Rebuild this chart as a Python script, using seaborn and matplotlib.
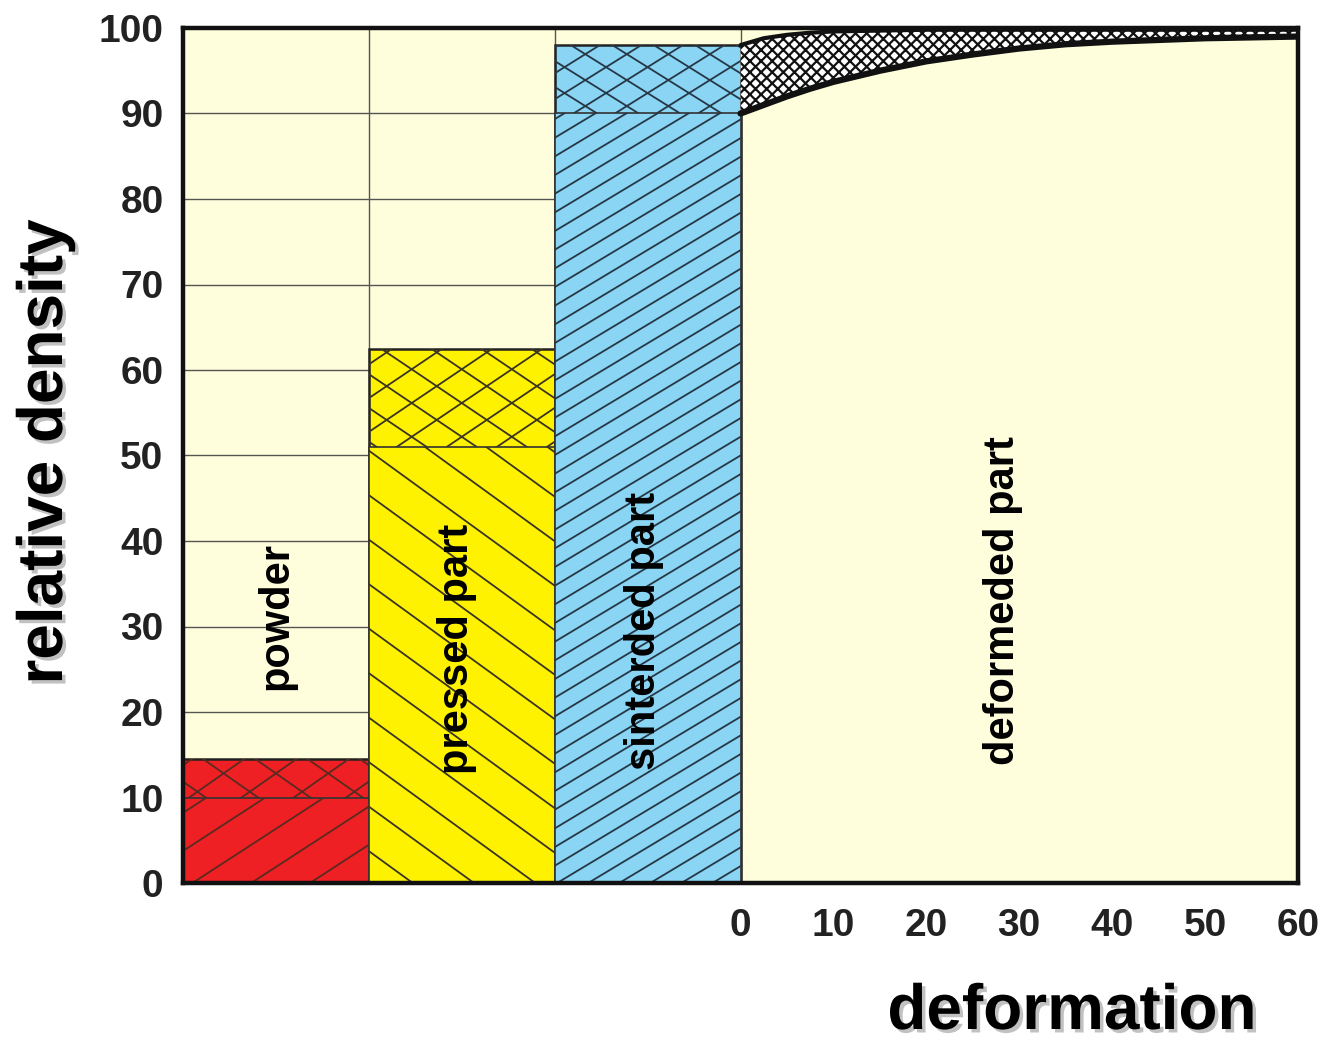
import numpy as np
import pandas as pd
import matplotlib
matplotlib.use("Agg")
import matplotlib.pyplot as plt
import matplotlib.patheffects as pe
from matplotlib.collections import LineCollection
import seaborn as sns

# ---------------- data ----------------
stages = ["powder", "pressed part", "sinterded part"]
stage_total = [14.5, 62.5, 98.0]      # top of each bar (relative density %)
stage_inner = [10.0, 51.0, 90.0]      # lower (single-hatched) part
stage_colors = ["#EE2024", "#FFF200", "#8AD4F4"]

deformation = [0, 2.5, 5, 7.5, 10, 15, 20, 25, 30, 35, 40, 50, 60]
density_low = [90.0, 91.0, 92.0, 92.9, 93.7, 95.0, 96.1, 96.9, 97.6, 98.1,
               98.4, 98.8, 99.0]
density_high = [98.0, 98.8, 99.2, 99.45, 99.6, 99.7, 99.8, 99.8, 99.8, 99.8,
                99.8, 99.8, 99.8]

y_ticks = [0, 10, 20, 30, 40, 50, 60, 70, 80, 90, 100]
x_ticks = [0, 10, 20, 30, 40, 50, 60]

# ---------------- style ----------------
sns.set_theme(style="white")
plt.rcParams["font.family"] = ["Liberation Sans", "DejaVu Sans"]
plt.rcParams["hatch.linewidth"] = 1.6
BG = "#FFFEDC"
NARROW = ["Liberation Sans Narrow", "Liberation Sans", "DejaVu Sans"]

W, H = 1322, 1040
fig = plt.figure(figsize=(W / 100, H / 100), dpi=100)
fig.patch.set_facecolor("white")
L, R, T, B = 183, 1298, 28, 883
ax = fig.add_axes([L / W, 1 - B / H, (R - L) / W, (B - T) / H])
ax.set_facecolor(BG)

n = len(stages)
bar_w = 20
x0 = -bar_w * n
ax.set_xlim(x0, 60)
ax.set_ylim(0, 100)

# grid only in the bar area
for yv in y_ticks[1:-1]:
    ax.plot([x0, 0], [yv, yv], color="#555555", lw=1.0, zorder=0.5)
for i in range(1, n + 1):
    ax.plot([x0 + i * bar_w] * 2, [0, 100], color="#555555", lw=1.0, zorder=0.5)

df = pd.DataFrame({
    "pos": [x0 + bar_w * (i + 0.5) for i in range(n)],
    "total": stage_total,
    "inner": stage_inner,
    "stage": stages,
})

sns.barplot(data=df, x="pos", y="total", hue="stage", palette=stage_colors,
            native_scale=True, dodge=False, width=1.0, legend=False,
            saturation=1, edgecolor="#222222", linewidth=1.8, orient="x",
            ax=ax, zorder=2)
sns.barplot(data=df, x="pos", y="inner", hue="stage", palette=stage_colors,
            native_scale=True, dodge=False, width=1.0, legend=False,
            saturation=1, edgecolor="#333333", linewidth=1.2, orient="x",
            ax=ax, zorder=2.2)
ax.set_xlim(x0, 60)
ax.set_ylim(0, 100)

patches = [p for p in ax.patches if p.get_width() > 0]
outer = patches[:n]
inner = patches[n:2 * n]


def hatch(patch, angles, spacing, color, lw, z):
    """parallel lines (pixel spacing) clipped to a bar patch"""
    fig.canvas.draw()
    bx, by = patch.get_x(), patch.get_y()
    bw, bh = patch.get_width(), patch.get_height()
    (px0, py0) = ax.transData.transform((bx, by))
    (px1, py1) = ax.transData.transform((bx + bw, by + bh))
    cx, cy = (px0 + px1) / 2, (py0 + py1) / 2
    diag = np.hypot(px1 - px0, py1 - py0)
    inv = ax.transData.inverted()
    segs = []
    for a in angles:
        t = np.deg2rad(a)
        d = np.array([np.cos(t), np.sin(t)])
        nrm = np.array([-np.sin(t), np.cos(t)])
        k = int(diag / spacing) + 2
        for j in range(-k, k + 1):
            c = np.array([cx, cy]) + nrm * (j * spacing + spacing * 0.3)
            p1 = c - d * diag
            p2 = c + d * diag
            segs.append(inv.transform([p1, p2]))
    lc = LineCollection(segs, colors=color, linewidths=lw, zorder=z)
    ax.add_collection(lc)
    lc.set_clip_path(patch)


hatch_specs = [
    # (upper cross angles, spacing, lower angles, spacing, color)
    ((35, -35), 30, (33,), 32, "#5a2a20"),
    ((34, -34), 28, (-36,), 36, "#3a3420"),
    ((32, -32), 22, (31,), 16, "#263845"),
]
for po, pi, (ua, us, la, ls, col) in zip(outer, inner, hatch_specs):
    hatch(po, ua, us, col, 1.3, 2.1)
    hatch(pi, la, ls, col, 1.3, 2.3)

# deformation band
ax.fill_between(deformation, density_low, density_high, facecolor="white",
                edgecolor="#111111", hatch="xxx", linewidth=0, zorder=2)
dd = pd.DataFrame({"deformation": deformation, "low": density_low,
                   "high": density_high})
sns.lineplot(data=dd, x="deformation", y="low", color="#111111", lw=4.5,
             ax=ax, zorder=3)
sns.lineplot(data=dd, x="deformation", y="high", color="#111111", lw=3,
             ax=ax, zorder=3)

# axes styling
ax.set_xlim(x0, 60)
ax.set_ylim(0, 100)
ax.set_xlabel("")
ax.set_ylabel("")
ax.set_yticks(y_ticks)
ax.set_yticklabels([str(v) for v in y_ticks])
ax.set_xticks(x_ticks)
ax.set_xticklabels([str(v) for v in x_ticks])
ax.tick_params(axis="both", length=0, colors="#222222")
ax.tick_params(axis="y", pad=14)
ax.tick_params(axis="x", pad=18)
for lab in ax.get_xticklabels() + ax.get_yticklabels():
    lab.set_fontfamily(NARROW)
    lab.set_fontsize(28)
    lab.set_fontweight("bold")
for s in ax.spines.values():
    s.set_visible(True)
    s.set_color("#111111")
    s.set_linewidth(3.2)
    s.set_zorder(5)

# labels inside
label_pos = [(-50, 31.2), (-30.5, 27.4), (-10.4, 29.5)]
for (xp, yp), name in zip(label_pos, stages):
    ax.text(xp, yp, name, rotation=90, ha="center", va="center",
            fontsize=30, fontweight="bold", color="black", zorder=6)
ax.text(28.3, 33, "deformeded part", rotation=90, ha="center", va="center",
        fontsize=30, fontweight="bold", color="black", zorder=6)

shadow = [pe.withSimplePatchShadow(offset=(2.5, -2.5), shadow_rgbFace="#999999",
                                   alpha=0.6)]
fig.text(45 / W, 1 - 452 / H, "relative density", rotation=90, ha="center",
         va="center", fontsize=46, fontweight="bold", color="black",
         path_effects=shadow)
fig.text(1072 / W, 1 - 1012 / H, "deformation", ha="center", va="center",
         fontsize=46, fontweight="bold", color="black", path_effects=shadow)

fig.savefig("out.png", dpi=100, facecolor="white")
